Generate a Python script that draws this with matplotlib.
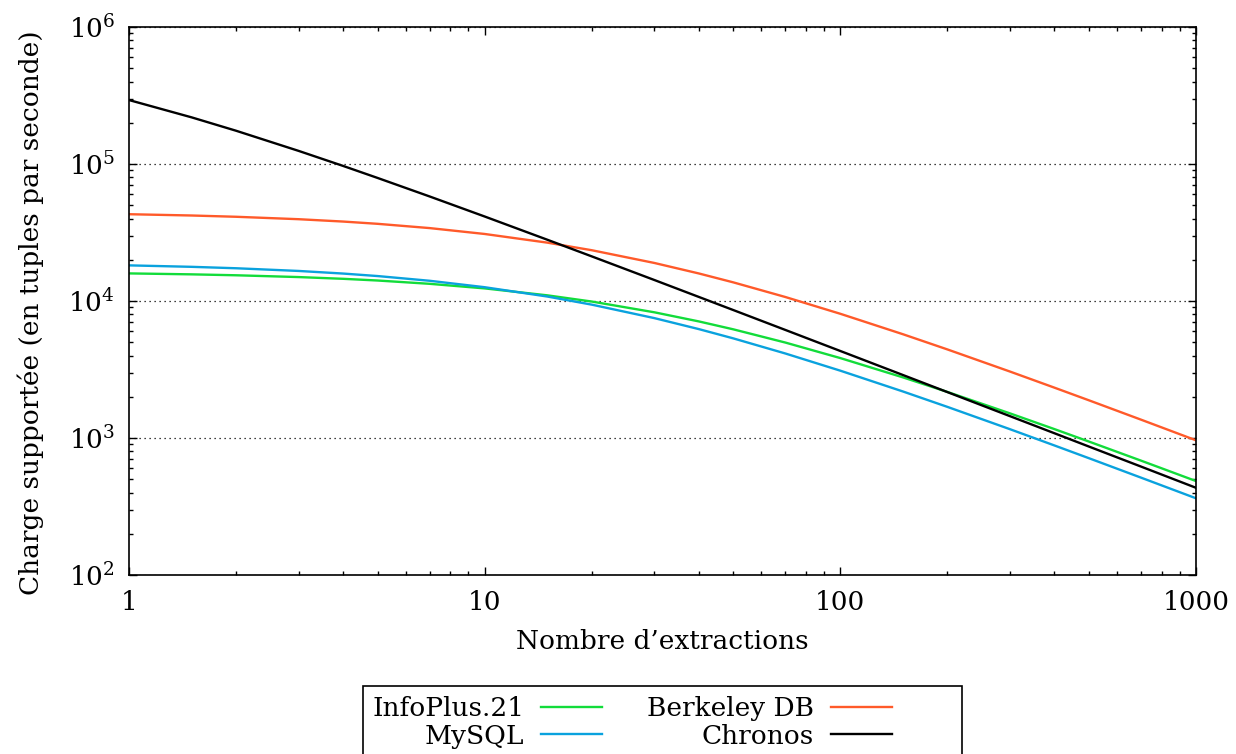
import matplotlib
matplotlib.use("Agg")
import matplotlib.pyplot as plt
from matplotlib.patches import Rectangle
from matplotlib.ticker import LogLocator, NullFormatter

plt.rcParams["font.family"] = ["DejaVu Serif"]
plt.rcParams["mathtext.fontset"] = "custom"
plt.rcParams["mathtext.rm"] = "DejaVu Serif"
plt.rcParams["mathtext.it"] = "DejaVu Serif:italic"
plt.rcParams["mathtext.default"] = "regular"

# nombre d'extractions
extractions = [1, 1.5, 2, 3, 4, 5, 7, 10, 15, 20, 30, 40, 50, 70,
               100, 150, 200, 300, 400, 500, 700, 1000]

# charge supportée (tuples / s)
infoplus = [15900, 15650, 15410, 14950, 14520, 14110, 13350, 12360, 11000, 9910,
            8270, 7096, 6213, 4976, 3831, 2770, 2169, 1512, 1161, 942, 684, 485]
mysql = [18200, 17760, 17340, 16570, 15860, 15210, 14050, 12610, 10780, 9406,
         7500, 6236, 5336, 4141, 3100, 2185, 1687, 1159, 882, 712, 514, 363]
berkeley = [43000, 42080, 41190, 39540, 38010, 36590, 34060, 30850, 26670, 23480,
            18950, 15890, 13680, 10700, 8066, 5720, 4431, 3054, 2330, 1884, 1362, 962]
chronos = [293000, 219000, 174900, 124600, 96800, 79100, 57970, 41380, 28010, 21170,
           14230, 10710, 8590, 6153, 4316, 2882, 2163, 1443, 1083, 866, 619, 433]

series = [
    ("InfoPlus.21", infoplus, "#12dc3a"),
    ("MySQL", mysql, "#0aa2de"),
    ("Berkeley DB", berkeley, "#ff5a2a"),
    ("Chronos", chronos, "#000000"),
]

W, H = 1236, 754
fig = plt.figure(figsize=(W / 100, H / 100), dpi=100)
ax = fig.add_axes([129 / W, 1 - 575 / H, (1196 - 129) / W, (575 - 27) / H])

lines = {}
for name, vals, col in series:
    lines[name], = ax.plot(extractions, vals, color=col, lw=1.7, label=name)

ax.set_xscale("log")
ax.set_yscale("log")
ax.set_xlim(1, 1000)
ax.set_ylim(1e2, 1e6)

ax.xaxis.set_minor_locator(LogLocator(base=10, subs=range(2, 10)))
ax.yaxis.set_minor_locator(LogLocator(base=10, subs=range(2, 10)))
ax.xaxis.set_minor_formatter(NullFormatter())
ax.yaxis.set_minor_formatter(NullFormatter())
ax.set_xticks([1, 10, 100, 1000])
ax.set_xticklabels(["1", "10", "100", "1000"])

ax.tick_params(which="both", direction="in", top=True, right=True, width=1)
ax.tick_params(which="major", length=5.5, labelsize=19)
ax.tick_params(axis="x", which="major", pad=11)
ax.tick_params(axis="y", which="major", pad=10)
ax.tick_params(which="minor", length=3.2)
for s in ax.spines.values():
    s.set_linewidth(1.2)

ax.yaxis.grid(True, which="major", linestyle=(0, (1, 3)), color="black", lw=0.9)
ax.set_axisbelow(True)

ax.set_xlabel("Nombre d’extractions", fontsize=19, labelpad=10)
ax.set_ylabel("Charge supportée (en tuples par seconde)", fontsize=19)
ax.yaxis.set_label_coords(-0.08, 0.478)

# legend (gnuplot style: text then sample, frame running off the bottom)
handles = [lines["InfoPlus.21"], lines["MySQL"], lines["Berkeley DB"], lines["Chronos"]]
leg = fig.legend(handles, [h.get_label() for h in handles], ncol=2,
                 loc="upper center", bbox_to_anchor=(632 / W, 1 - 696 / H),
                 borderaxespad=0, borderpad=0, frameon=False, markerfirst=False,
                 fontsize=19, labelspacing=0.1, handlelength=2.3,
                 columnspacing=1.7, handletextpad=0.65)
fig.patches.append(Rectangle((363 / W, -0.05), (962 - 363) / W, 0.05 + 1 - 686 / H,
                             transform=fig.transFigure, fill=False,
                             edgecolor="black", lw=1.2))

fig.savefig("out.png", dpi=100)
